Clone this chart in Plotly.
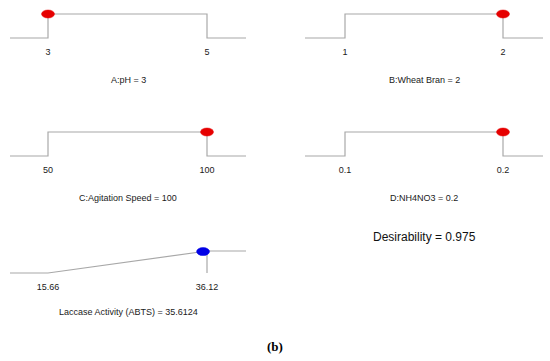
import plotly.graph_objects as go

# ---- data ----
factor_names = ["A:pH", "B:Wheat Bran", "C:Agitation Speed", "D:NH4NO3"]
factor_low = [3, 1, 50, 0.1]
factor_high = [5, 2, 100, 0.2]
factor_value = [3, 2, 100, 0.2]
factor_desirability = [1, 1, 1, 1]

response_name = "Laccase Activity (ABTS)"
response_low = 15.66
response_high = 36.12
response_value = 35.6124
response_desirability = 0.975

desirability_total = 0.975

# ---- layout helpers (pixels) ----
W, H = 550, 361
col_x = [(10, 246, 48, 207), (305, 543, 345, 503)]  # left, right, low px, high px
row_y = [(14, 38), (132, 156), (251, 273)]            # top px, baseline px
PAD = 0.3
LINE = "#a8a8a8"
TXT = "#1a1a1a"

fig = go.Figure()
annotations = []
shapes = []

def fmt(v):
    return ("%g" % v)

def add_panel(idx, col, row, low, high, xs, ys, dot_x, dot_y, dot_color, title, ticktext, vline=None):
    left, right, plo, phi = col_x[col]
    top, base = row_y[row]
    span = (high - low) / (phi - plo)
    x0 = low - (plo - left) * span
    x1 = high + (right - phi) * span
    ax = "" if idx == 1 else str(idx)
    xs_full = [x0] + xs + [x1]
    ys_full = [ys[0]] + ys + [ys[-1]]
    fig.add_trace(go.Scatter(x=xs_full, y=ys_full, mode="lines",
                             line=dict(color=LINE, width=1.2),
                             xaxis="x" + ax, yaxis="y" + ax,
                             hoverinfo="skip", showlegend=False))
    if vline is not None:
        fig.add_trace(go.Scatter(x=[vline, vline], y=[0, 1], mode="lines",
                                 line=dict(color=LINE, width=1.2),
                                 xaxis="x" + ax, yaxis="y" + ax,
                                 hoverinfo="skip", showlegend=False))
    hpx = base - top
    yd0 = 1 - (base + PAD * hpx) / H
    yd1 = 1 - (top - PAD * hpx) / H
    fig.layout["xaxis" + ax] = dict(domain=[left / W, right / W], range=[x0, x1],
                                    anchor="y" + ax, showgrid=False, zeroline=False,
                                    showline=False, ticks="", ticklen=0,
                                    tickvals=[low, high], ticktext=ticktext,
                                    tickfont=dict(size=9, color=TXT,
                                                  family="Liberation Sans, Arial"),
                                    fixedrange=True)
    fig.layout["yaxis" + ax] = dict(domain=[yd0, yd1], range=[-PAD, 1 + PAD],
                                    anchor="x" + ax, visible=False, fixedrange=True)
    shapes.append(dict(type="circle", xref="x" + ax, yref="y" + ax,
                       xsizemode="pixel", ysizemode="pixel",
                       xanchor=dot_x, yanchor=dot_y,
                       x0=-6.5, x1=6.5, y0=-4, y1=4,
                       fillcolor=dot_color, line=dict(color=dot_color, width=0.5),
                       layer="above"))
    annotations.append(dict(text=title, xref="paper", yref="paper",
                            x=(left + right) / 2 / W,
                            y=1 - (base + (42 if row < 2 else 39)) / H,
                            showarrow=False, xanchor="center", yanchor="middle",
                            font=dict(size=9, color=TXT, family="Liberation Sans, Arial")))

for i in range(4):
    lo, hi, v = factor_low[i], factor_high[i], factor_value[i]
    add_panel(i + 1, i % 2, i // 2, lo, hi,
              [lo, lo, hi, hi], [0, 1, 1, 0],
              v, factor_desirability[i], "#e60000",
              f"{factor_names[i]} = {fmt(v)}", [fmt(lo), fmt(hi)])

add_panel(5, 0, 2, response_low, response_high,
          [response_low, response_high], [0, 1],
          response_value, response_desirability, "#0000e6",
          f"{response_name} = {response_value}",
          [f"{response_low:.2f}", f"{response_high:.2f}"],
          vline=response_high)

annotations.append(dict(text=f"Desirability = {desirability_total}", xref="paper", yref="paper",
                        x=424 / W, y=1 - 237 / H, showarrow=False,
                        xanchor="center", yanchor="middle",
                        font=dict(size=12, color="#111", family="Liberation Sans, Arial")))
annotations.append(dict(text="<b>(b)</b>", xref="paper", yref="paper",
                        x=275 / W, y=1 - 346 / H, showarrow=False,
                        xanchor="center", yanchor="middle",
                        font=dict(size=13, color="#000", family="Liberation Serif, Times New Roman")))

fig.update_layout(width=W, height=H, margin=dict(l=0, r=0, t=0, b=0),
                  paper_bgcolor="white", plot_bgcolor="white",
                  annotations=annotations, shapes=shapes, showlegend=False)

fig.write_html("out.html", config={"displayModeBar": False},
               post_script="document.body.style.margin='0';document.body.style.overflow='hidden';")
